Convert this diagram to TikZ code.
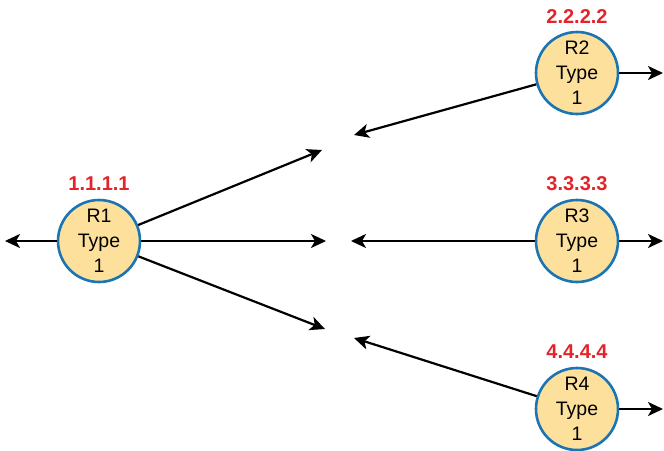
\documentclass[tikz,border=0pt]{standalone}
\usepackage{fontspec}
\setmainfont{Liberation Sans}
\usetikzlibrary{arrows.meta,positioning}

\definecolor{rtrfill}{HTML}{FCE09B}
\definecolor{rtrline}{HTML}{1B75B4}
\definecolor{ridred}{HTML}{E3242B}

\begin{document}
\begin{tikzpicture}[
  x=1pt, y=-1pt,
  rtr/.style={circle, draw=rtrline, fill=rtrfill, line width=2.6pt, minimum size=82pt, inner sep=0pt, align=center, font=\fontsize{19.5}{25}\selectfont},
  rid/.style={font=\fontsize{20}{22}\selectfont\bfseries, text=ridred},
  lsa/.style={-{Stealth[length=15pt, width=14pt, inset=4pt]}, line width=2.2pt}
]
  \useasboundingbox (0,0) rectangle (664,450);

  % routers
  \node[rtr] (R1) at (99,241) {R1\\Type\\1};
  \node[rtr] (R2) at (577,73) {R2\\Type\\1};
  \node[rtr] (R3) at (577,241) {R3\\Type\\1};
  \node[rtr] (R4) at (577,409) {R4\\Type\\1};

  % router IDs
  \node[rid] (id1) at (99,184) {1.1.1.1};
  \node[rid] (id2) at (577,17) {2.2.2.2};
  \node[rid] (id3) at (577,184) {3.3.3.3};
  \node[rid] (id4) at (577,352) {4.4.4.4};

  % arrow ends
  \coordinate (w1) at (5,241);
  \coordinate (a1) at (322,150);
  \coordinate (b1) at (326,241);
  \coordinate (c1) at (325,329);
  \coordinate (a2) at (354,135);
  \coordinate (b3) at (351,241);
  \coordinate (c4) at (354,338);
  \coordinate (e2) at (663,73);
  \coordinate (e3) at (663,241);
  \coordinate (e4) at (663,409);

  \draw[lsa] (R1) -- (w1);
  \draw[lsa] (R1) -- (a1);
  \draw[lsa] (R1) -- (b1);
  \draw[lsa] (R1) -- (c1);
  \draw[lsa] (R2) -- (a2);
  \draw[lsa] (R3) -- (b3);
  \draw[lsa] (R4) -- (c4);
  \draw[lsa] (R2) -- (e2);
  \draw[lsa] (R3) -- (e3);
  \draw[lsa] (R4) -- (e4);
\end{tikzpicture}
\end{document}
